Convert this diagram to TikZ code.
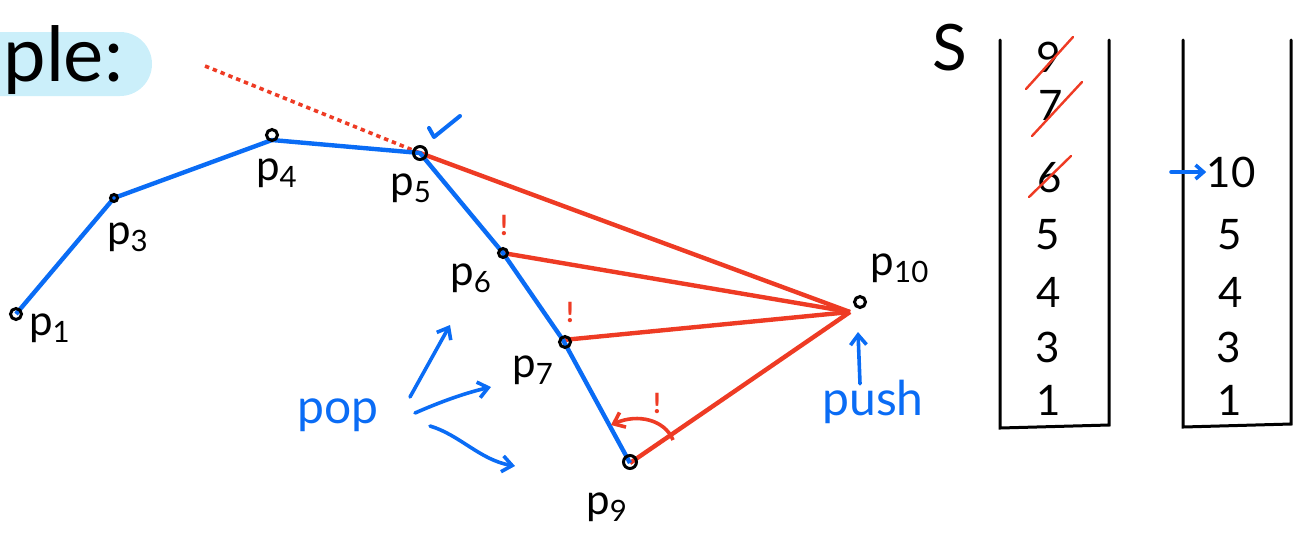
\documentclass[tikz,border=0pt]{standalone}
\usepackage{fontspec}
\setmainfont{Lato}
\usetikzlibrary{arrows.meta}
\definecolor{hullblue}{HTML}{0A6CF5}
\definecolor{hullred}{HTML}{EE3B24}
\definecolor{hullsky}{HTML}{CBEFFA}

\begin{document}
\begin{tikzpicture}[x=0.5pt, y=-0.5pt,
  pt/.style={circle, draw=black, line width=1.5pt, inner sep=0pt, minimum size=5.5pt},
  lbl/.style={font=\fontsize{21}{23}\selectfont, inner sep=0pt},
  num/.style={font=\fontsize{21}{23}\selectfont, inner sep=0pt},
  hull/.style={hullblue, line width=2.2pt, line join=round},
  scan/.style={hullred, line width=2.2pt},
  bang/.style={text=hullred, font=\fontsize{14}{16}\selectfont\bfseries, inner sep=0pt},
  arrow/.style={-{Straight Barb[length=5pt, width=8pt]}, hullblue, line width=1.8pt, line cap=round},
  wall/.style={black, line width=1.5pt, line cap=round},
  strike/.style={hullred, line width=1.2pt, line cap=round}
]
  \useasboundingbox (0,0) rectangle (1300,532);

  \fill[hullsky, rounded corners=16pt] (-60,32) rectangle (152,96);
  \node[font=\fontsize{38}{42}\selectfont, inner sep=0pt, anchor=west] (title) at (3,60) {ple:};

  \coordinate (q1) at (16,314);
  \coordinate (q3) at (114,198);
  \coordinate (q4) at (272,140);
  \coordinate (q5) at (420,153);
  \coordinate (q6) at (503,253);
  \coordinate (q7) at (563,340);
  \coordinate (q9) at (630,463);
  \coordinate (apex) at (850,312);
  \coordinate (sight) at (205,66);

  \draw[scan, dotted, line width=1.8pt] (sight) -- (q5);
  \draw[scan] (q5) -- (apex);
  \draw[scan] (q6) -- (apex);
  \draw[scan] (q7) -- (apex);
  \draw[scan] (q9) -- (apex);
  \draw[hull] (q1) -- (q3) -- (q4) -- (q5) -- (q6) -- (q7) -- (q9);

  \node[pt] (p1) at (16,314) {};
  \node[pt, minimum size=3.5pt] (p3) at (114,198) {};
  \node[pt] (p4) at (272,135) {};
  \node[pt, minimum size=6.5pt] (p5) at (420,153) {};
  \node[pt, minimum size=4.5pt] (p6) at (503,253) {};
  \node[pt] (p7) at (565,342) {};
  \node[pt, minimum size=6.5pt] (p9) at (630,462) {};
  \node[pt] (p10) at (860,302) {};

  \node[lbl] (l1) at (50,328) {p\textsubscript{1}};
  \node[lbl] (l3) at (128,237) {p\textsubscript{3}};
  \node[lbl] (l4) at (277,173) {p\textsubscript{4}};
  \node[lbl] (l5) at (411,188) {p\textsubscript{5}};
  \node[lbl] (l6) at (471,278) {p\textsubscript{6}};
  \node[lbl] (l7) at (533,370) {p\textsubscript{7}};
  \node[lbl] (l9) at (607,507) {p\textsubscript{9}};
  \node[lbl] (l10) at (900,268) {p\textsubscript{10}};

  \draw[hullblue, line width=2pt, line cap=round, line join=round] (429,128) -- (434,137) -- (460,116);

  \node[bang] (b6) at (504,225) {!};
  \node[bang] (b7) at (570,312) {!};
  \node[bang] (b9) at (657,403) {!};
  \draw[hullred, line width=1.8pt, -{Straight Barb[length=5pt, width=8pt]}] (673,440) .. controls (665,420) and (638,413) .. (611,425);

  \node[text=hullblue, font=\fontsize{24}{26}\selectfont, inner sep=0pt] (pop) at (338,415) {pop};
  \draw[arrow] (410,397) -- (450,325);
  \draw[arrow] (415,413) .. controls (440,402) and (465,393) .. (491,387);
  \draw[arrow] (430,426) .. controls (460,435) and (480,460) .. (515,466);

  \node[text=hullblue, font=\fontsize{24}{26}\selectfont, inner sep=0pt] (push) at (873,402) {push};
  \draw[arrow] (push.north -| p10) ++(0,4) coordinate (pushfoot) -- (858,332);

  \node[font=\fontsize{32}{34}\selectfont, inner sep=0pt] (S) at (950,48) {S};

  \draw[wall] (1000,40) -- (1000,428) -- (1109,425) -- (1109,40);
  \node[num] (s9) at (1049,57) {9};
  \node[num] (s7) at (1051,105) {7};
  \node[num] (s6) at (1050,178) {6};
  \node[num] (s5) at (1048,235) {5};
  \node[num] (s4) at (1049,292) {4};
  \node[num] (s3) at (1048,347) {3};
  \node[num] (s1) at (1049,400) {1};
  \draw[strike] (1026,89) -- (1073,37);
  \draw[strike] (1032,136) -- (1082,82);
  \draw[strike] (1029,197) -- (1071,156);

  \draw[wall] (1183,40) -- (1183,427) -- (1291,424) -- (1291,40);
  \node[num] (t10) at (1231,172) {10};
  \node[num] (t5) at (1230,235) {5};
  \node[num] (t4) at (1231,292) {4};
  \node[num] (t3) at (1229,347) {3};
  \node[num] (t1) at (1230,400) {1};
  \coordinate (tin) at (1171,172);
  \draw[hullblue, line width=1.8pt, line cap=round, -{Straight Barb[length=4pt, width=7pt]}] (tin) -- (t10.west);
\end{tikzpicture}
\end{document}
